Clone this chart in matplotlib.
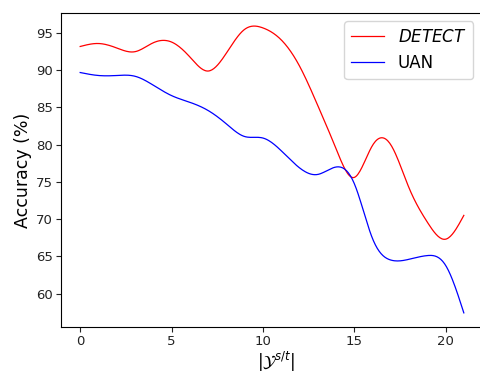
import numpy as np
import matplotlib
matplotlib.use('Agg')
import matplotlib.pyplot as plt

# values at each class count
n_classes = list(range(22))
detect_acc = [93.2, 93.6, 93.0, 92.5, 93.7, 93.8, 91.8, 89.9, 92.3, 95.5, 95.7,
              94.1, 90.6, 85.3, 79.5, 75.6, 79.9, 80.0, 74.2, 69.6, 67.3, 70.5]
uan_acc = [89.7, 89.3, 89.3, 89.2, 88.0, 86.6, 85.7, 84.6, 82.8, 81.1, 80.9,
           79.2, 76.9, 76.0, 77.0, 74.8, 67.4, 64.5, 64.6, 65.1, 63.8, 57.4]


def smooth(x, y, n=400):
    '''natural cubic spline through the points, for drawing only'''
    x = np.asarray(x, float)
    y = np.asarray(y, float)
    k = len(x)
    h = np.diff(x)
    A = np.zeros((k, k))
    b = np.zeros(k)
    A[0, 0] = A[-1, -1] = 1
    for i in range(1, k - 1):
        A[i, i - 1] = h[i - 1]
        A[i, i] = 2 * (h[i - 1] + h[i])
        A[i, i + 1] = h[i]
        b[i] = 3 * ((y[i + 1] - y[i]) / h[i] - (y[i] - y[i - 1]) / h[i - 1])
    c = np.linalg.solve(A, b)
    xs = np.linspace(x[0], x[-1], n)
    idx = np.clip(np.searchsorted(x, xs) - 1, 0, k - 2)
    dx = xs - x[idx]
    bb = (y[idx + 1] - y[idx]) / h[idx] - h[idx] * (2 * c[idx] + c[idx + 1]) / 3
    dd = (c[idx + 1] - c[idx]) / (3 * h[idx])
    ys = y[idx] + bb * dx + c[idx] * dx ** 2 + dd * dx ** 3
    return xs, ys


fig = plt.figure(figsize=(4.8, 3.73), dpi=100)
# the reference is cropped just before the right spine
ax = fig.add_axes([61 / 480, 46 / 373, 430 / 480, 314 / 373])
ax.spines['right'].set_visible(False)

xs, ys = smooth(n_classes, detect_acc)
ax.plot(xs, ys, color='red', lw=0.9, label=r'$\mathit{DETECT}$')
xs, ys = smooth(n_classes, uan_acc)
ax.plot(xs, ys, color='blue', lw=0.9, label='UAN')

ax.set_xlim(-1.05, -1.05 + 23.1 * 430 / 422)
ax.set_ylim(55.5, 97.7)
ax.set_xticks([0, 5, 10, 15, 20])
ax.set_yticks([60, 65, 70, 75, 80, 85, 90, 95])
ax.tick_params(labelsize=9.5, length=3.5, pad=2.5, colors='#222222')
ax.set_xlabel(r'$|\mathcal{Y}^{s/t}|$', fontsize=12, labelpad=1)
ax.set_ylabel('Accuracy (%)', fontsize=12.5, labelpad=3)
ax.legend(fontsize=12, loc='upper right', bbox_to_anchor=(0.978, 1.0))

plt.savefig('out.png', dpi=100)
